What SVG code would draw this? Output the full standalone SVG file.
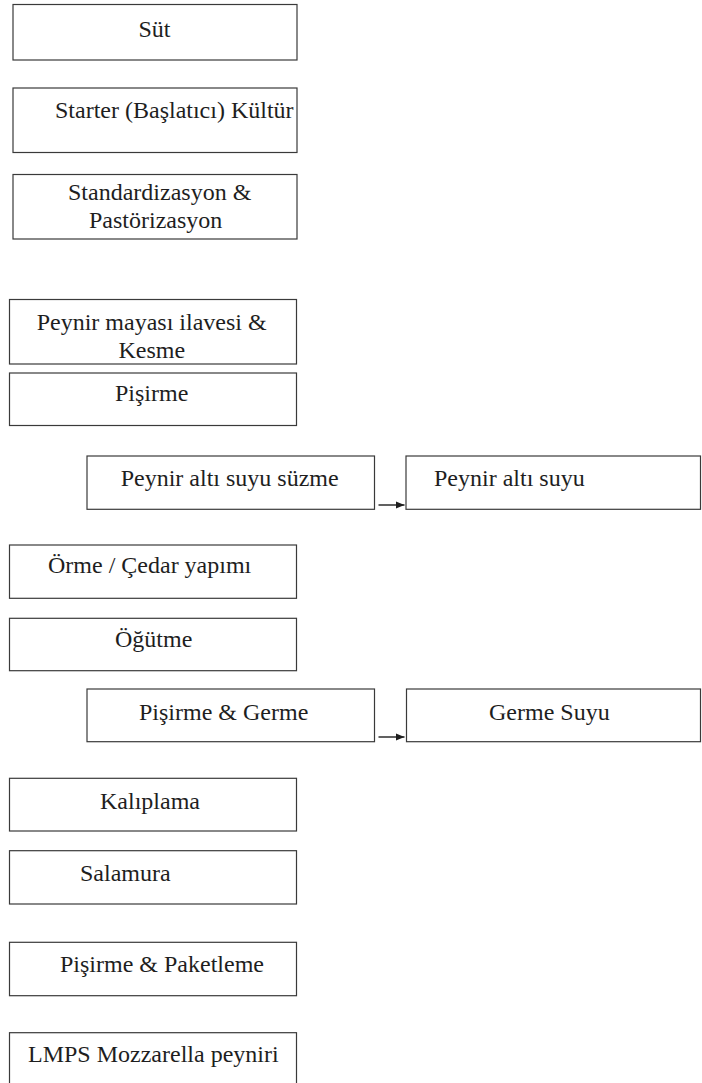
<svg xmlns="http://www.w3.org/2000/svg" width="702" height="1083" viewBox="0 0 702 1083">
<style>
.box{fill:#fff;stroke:#3a3a3a;stroke-width:1.2}
.t{font-family:"Liberation Serif","Times New Roman",serif;font-size:24px;fill:#1e1e1e}
.c{stroke:#1e1e1e;stroke-width:1.4;fill:none}
</style>
<defs>
<marker id="ah" markerUnits="userSpaceOnUse" markerWidth="10" markerHeight="9" refX="9" refY="4.5" orient="auto">
<path d="M0,0.8 L9,4.5 L0,8.2 Z" fill="#1e1e1e"/>
</marker>
</defs>
<rect width="702" height="1083" fill="#fff"/>
<g id="n-sut"><rect class="box" x="13" y="4.5" width="284" height="55.5"/><text class="t" x="154.5" y="37" text-anchor="middle">Süt</text></g>
<g id="n-starter"><rect class="box" x="13" y="88" width="284" height="64.5"/><text class="t" x="55" y="118">Starter (Başlatıcı) Kültür</text></g>
<g id="n-standard"><rect class="box" x="13" y="174.5" width="284" height="64.5"/><text class="t" x="68" y="200">Standardizasyon &amp;</text><text class="t" x="89" y="228">Pastörizasyon</text></g>
<g id="n-maya"><rect class="box" x="9.5" y="299.5" width="287" height="64.5"/><text class="t" x="36.7" y="330">Peynir mayası ilavesi &amp;</text><text class="t" x="118.4" y="358">Kesme</text></g>
<g id="n-pisirme"><rect class="box" x="9.5" y="373" width="287" height="52.5"/><text class="t" x="115" y="401">Pişirme</text></g>
<g id="n-suzme"><rect class="box" x="87" y="456" width="287.5" height="53.3"/><text class="t" x="120.7" y="486">Peynir altı suyu süzme</text></g>
<g id="n-altisuyu"><rect class="box" x="406" y="456" width="294.5" height="53.3"/><text class="t" x="434" y="486">Peynir altı suyu</text></g>
<g id="n-orme"><rect class="box" x="9.5" y="545" width="287" height="53.3"/><text class="t" x="48" y="573">Örme / Çedar yapımı</text></g>
<g id="n-ogutme"><rect class="box" x="9.5" y="618.3" width="287" height="52.4"/><text class="t" x="115" y="647">Öğütme</text></g>
<g id="n-germe"><rect class="box" x="87" y="689" width="287.5" height="52.7"/><text class="t" x="139" y="720">Pişirme &amp; Germe</text></g>
<g id="n-germesuyu"><rect class="box" x="406.5" y="689" width="294" height="52.7"/><text class="t" x="489" y="720">Germe Suyu</text></g>
<g id="n-kaliplama"><rect class="box" x="9.5" y="778.3" width="287" height="52.7"/><text class="t" x="100" y="809.3">Kalıplama</text></g>
<g id="n-salamura"><rect class="box" x="9.5" y="850.7" width="287" height="53.3"/><text class="t" x="80" y="881">Salamura</text></g>
<g id="n-paketleme"><rect class="box" x="9.5" y="942.3" width="287" height="53.4"/><text class="t" x="60" y="971.7">Pişirme &amp; Paketleme</text></g>
<g id="n-lmps"><rect class="box" x="9.5" y="1032.7" width="287" height="60"/><text class="t" x="28" y="1062">LMPS Mozzarella peyniri</text></g>
<g id="connectors">
<line class="c" x1="378.5" y1="505" x2="404.5" y2="505" marker-end="url(#ah)"/>
<line class="c" x1="378.5" y1="737" x2="404.5" y2="737" marker-end="url(#ah)"/>
</g>
</svg>
